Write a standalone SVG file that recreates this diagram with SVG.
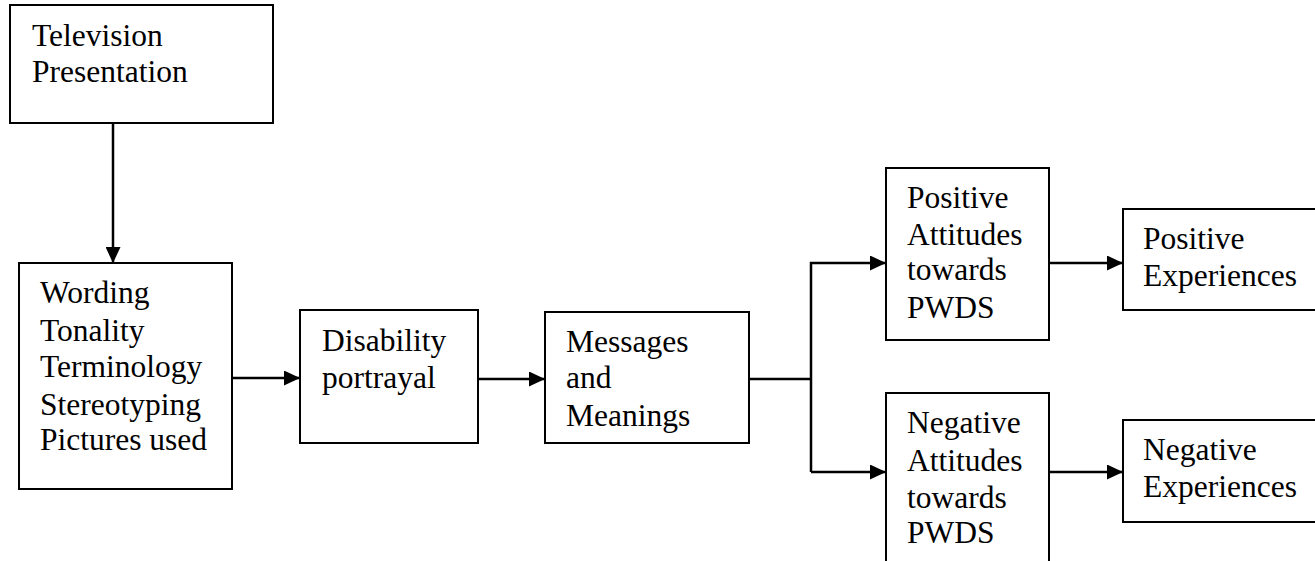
<svg xmlns="http://www.w3.org/2000/svg" width="1315" height="561" viewBox="0 0 1315 561">
<style>
.box{fill:#fff;stroke:#000;stroke-width:2}
.lbl{font-family:"Liberation Serif","Times New Roman",serif;font-size:31.5px;fill:#000}
.con{fill:none;stroke:#000;stroke-width:2.5}
</style>
<defs>
<marker id="ah" markerUnits="userSpaceOnUse" markerWidth="17" markerHeight="15" refX="16" refY="7.5" orient="auto">
<path d="M0,0 L16,7.5 L0,15 Z" fill="#000"/>
</marker>
</defs>
<rect width="1315" height="561" fill="#fff"/>
<g id="connectors">
<line class="con" x1="113" y1="123" x2="113" y2="263" marker-end="url(#ah)"/>
<line class="con" x1="232" y1="378" x2="300" y2="378" marker-end="url(#ah)"/>
<line class="con" x1="478" y1="379" x2="545" y2="379" marker-end="url(#ah)"/>
<polyline class="con" points="749,379 811,379"/>
<polyline class="con" points="811,472 811,263 886,263" marker-end="url(#ah)"/>
<line class="con" x1="811" y1="472" x2="886" y2="472" marker-end="url(#ah)"/>
<line class="con" x1="1049" y1="263" x2="1123" y2="263" marker-end="url(#ah)"/>
<line class="con" x1="1049" y1="472" x2="1123" y2="472" marker-end="url(#ah)"/>
</g>
<g id="tv">
<rect class="box" x="10" y="5" width="263" height="118"/>
<text class="lbl" x="32" y="46">Television</text>
<text class="lbl" x="32" y="82">Presentation</text>
</g>
<g id="features">
<rect class="box" x="19" y="263" width="213" height="226"/>
<text class="lbl" x="40" y="303">Wording</text>
<text class="lbl" x="40" y="341">Tonality</text>
<text class="lbl" x="40" y="377">Terminology</text>
<text class="lbl" x="40" y="415">Stereotyping</text>
<text class="lbl" x="40" y="450">Pictures used</text>
</g>
<g id="portrayal">
<rect class="box" x="300" y="310" width="178" height="133"/>
<text class="lbl" x="322" y="351">Disability</text>
<text class="lbl" x="322" y="388">portrayal</text>
</g>
<g id="messages">
<rect class="box" x="545" y="312" width="204" height="131"/>
<text class="lbl" x="566" y="352">Messages</text>
<text class="lbl" x="566" y="388">and</text>
<text class="lbl" x="566" y="426">Meanings</text>
</g>
<g id="posatt">
<rect class="box" x="886" y="168" width="163" height="172"/>
<text class="lbl" x="907" y="208">Positive</text>
<text class="lbl" x="907" y="245">Attitudes</text>
<text class="lbl" x="907" y="280">towards</text>
<text class="lbl" x="907" y="318">PWDS</text>
</g>
<g id="negatt">
<rect class="box" x="886" y="393" width="163" height="190"/>
<text class="lbl" x="907" y="433">Negative</text>
<text class="lbl" x="907" y="471">Attitudes</text>
<text class="lbl" x="907" y="508">towards</text>
<text class="lbl" x="907" y="543">PWDS</text>
</g>
<g id="posexp">
<rect class="box" x="1123" y="209" width="200" height="101"/>
<text class="lbl" x="1143" y="249">Positive</text>
<text class="lbl" x="1143" y="286">Experiences</text>
</g>
<g id="negexp">
<rect class="box" x="1123" y="420" width="200" height="102"/>
<text class="lbl" x="1143" y="460">Negative</text>
<text class="lbl" x="1143" y="497">Experiences</text>
</g>
</svg>
